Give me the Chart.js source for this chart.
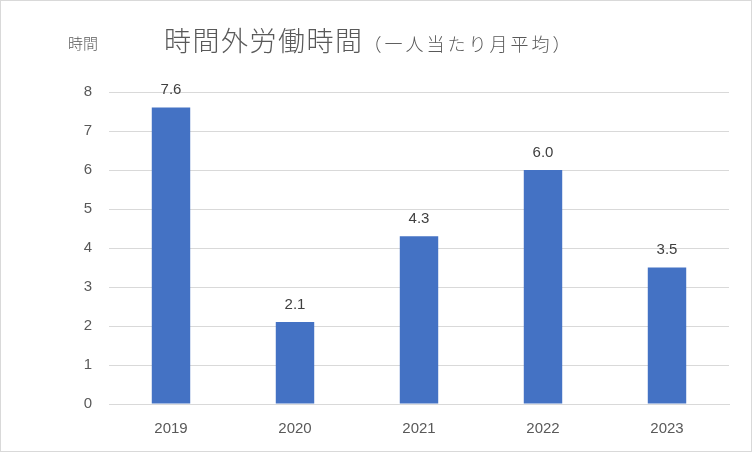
<!DOCTYPE html>
<html><head><meta charset="utf-8">
<script src="https://cdn.jsdelivr.net/npm/chart.js@4"></script>
<style>
html,body{margin:0;padding:0;background:#fff;}
#wrap{position:relative;width:752px;height:452px;box-sizing:border-box;border:1px solid #d9d9d9;background:#fff;}
#c{position:absolute;left:0;top:0;}
.t{position:absolute;font-family:"Noto Sans CJK JP",sans-serif;color:#595959;white-space:nowrap;line-height:1;font-weight:300;}
#ylab{left:67px;top:34px;font-size:15px;}
#title{left:163px;top:25px;font-size:27px;letter-spacing:1.5px;}
#title span{font-size:18px;letter-spacing:3px;}
</style></head>
<body>
<div id="wrap">
<canvas id="c" width="750" height="450"></canvas>
<div class="t" id="ylab">時間</div>
<div class="t" id="title">時間外労働時間<span>（一人当たり月平均）</span></div>
</div>
<script>
const categories = ["2019","2020","2021","2022","2023"];
const hours = [7.6, 2.1, 4.3, 6.0, 3.5];
const yTicks = [0,1,2,3,4,5,6,7,8];

const labelPlugin = {
  id:'vals',
  afterDatasetsDraw(chart){
    const ctx = chart.ctx;
    const meta = chart.getDatasetMeta(0);
    ctx.save();
    ctx.font = '15px "Liberation Sans", "Noto Sans", sans-serif';
    ctx.fillStyle = '#404040';
    ctx.textAlign = 'center';
    ctx.textBaseline = 'bottom';
    meta.data.forEach((bar,i)=>{
      ctx.fillText(hours[i].toFixed(1), bar.x, bar.y - 10);
    });
    ctx.restore();
  }
};

new Chart(document.getElementById('c'), {
  type:'bar',
  data:{labels:categories, datasets:[{data:hours, backgroundColor:'#4472C4', barPercentage:0.31, categoryPercentage:1}]},
  options:{
    responsive:false, animation:false,
    layout:{padding:{top:91,right:22,left:0,bottom:0}},
    plugins:{legend:{display:false}, tooltip:{enabled:false}, title:{display:false}},
    scales:{
      x:{
        grid:{display:false, drawTicks:false},
        border:{display:true,color:'#d9d9d9'},
        ticks:{color:'#595959', font:{size:15, family:'"Liberation Sans", "Noto Sans", sans-serif'}, padding:16},
        afterFit(s){ s.height = 47; }
      },
      y:{
        min:0, max:8,
        afterBuildTicks(s){ s.ticks = yTicks.map(v=>({value:v})); },
        grid:{color:'#d9d9d9', drawTicks:false},
        border:{display:false},
        ticks:{color:'#595959', font:{size:15, family:'"Liberation Sans", "Noto Sans", sans-serif'}, padding:17},
        afterFit(s){ s.width = 108; }
      }
    }
  },
  plugins:[labelPlugin]
});
</script>
</body></html>
